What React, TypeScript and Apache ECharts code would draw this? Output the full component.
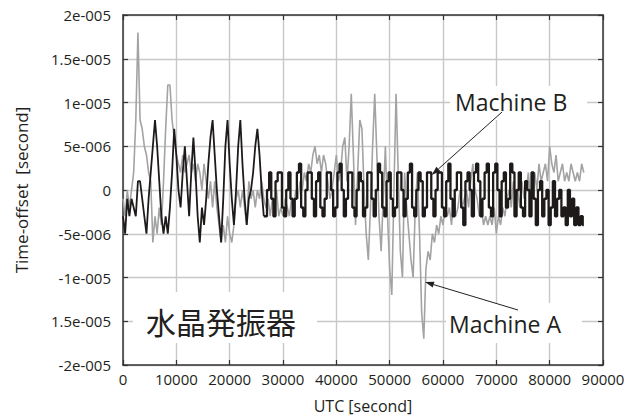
import React, { useEffect, useRef } from "react";
import * as echarts from "echarts";

// sampling interval of the series along UTC [second]
const SAMPLE_STEP_S = 400;

// Time offsets in microseconds (1e-6 s), one value every SAMPLE_STEP_S seconds from 0 to 86400 s
const machineA = [
  -1, -3, 0, -2, 0, 2, 8, 18, 8, 7,
  5, 4, 2, 1, -6, -3, -5, -2, -4, 1,
  7, 12, 12, 8, 6, 4, 3, 2, 4, 2,
  3, 4, 2, 3, 1, 3, 2, 0, 3, 1,
  -1, 1, -2, 1, -2, -4, -6, -4, -6, -3,
  -5, -6, -4, -1, 0, -2, 0, -2, -4, 1,
  -1, 0, -2, 0, -1, 1, -1,
  -2, -1, -3, -1, -2, 0, -3, -2, -3, -1,
  -2, -3, -1, -2, 0, -1, 1, 0, 2, 1,
  3, 2, 4, 5, 3, 4, 2, 4,
  3, 1, -1, 0, 2, 4, 1, 2, 5, 6,
  1, 5, 11, 4, -4, 2, 8, 7, 0, -5,
  -8, -2, 5, 11, 4, -3, -7, -1, 5, -3,
  -9, -12, 0, 11, 2, -7, -10, 2, -2, -5,
  -8, -10, -2, 2, -5, -14, -17, -9, -7, -8,
  -5, -6, -4, -5, -3, -4, -2, -3,
  -2, -4, -1, -3, -2, 0, -2, -1, 0, -2,
  1, 3, 0, -1, -3, -2, -4, -3, -4, -3,
  -4, -2, -5, -3, -4, -2, -3, -1, 0, -2,
  1, -1, 0, -2, 1, -1, 0, 2, -1, 1,
  2, 0, 3, 1, 2, 3, 1, 5, 3, 2,
  4, 1, 2, 3, 1, 2, 1, 3, 2, 1,
  2, 1, 3, 2,
];

const machineB = [
  -3, -5, -1, -3, -1, -2, -3, 1, 1, -1,
  -3, -5, -1, 2, 5, 8, 5, 1, -3, -5,
  -3, -5, -2, 2, 7, 4, 0, -2, 2, 5,
  1, -3, 2, 6, 2, -3, -6, -2, -4, -1,
  3, 6, 8, 4, 0, -3, -6, -1, 5, 8,
  3, -1, -4, 0, 5, 8, 3, -1, -4, -1,
  0, 2, 5, 7, 4, 0, -3,
  -3, 0, 2, -1, -3, 1, 2, 2, -2, -3,
  0, 2, -1, -3, -1, 2, 3, -2, -3, 0,
  2, 2, -1, -3, 1, 2, -2, -3, -1, 2,
  2, 0, -3, -2, 2, 3, 0, -3, -1, 2,
  2, -2, -3, 0, 2, 1, -3, -2, 2, 2,
  -1, -3, 0, 3, 2, -2, -3, 1, 2, -1,
  -3, -2, 2, 2, 0, -3, -1, 2, 3, -2,
  -3, 0, 2, 1, -3, -2, 2, 2, -1, -3,
  0, 2, 2, -2, -3, 1, 3, -1, -3, 0,
  2, 2, -2, -4, 1, 2, 0, -3, 2, 3,
  1, -3, -1, 2, 3, -2, -3, 2, 3, 0,
  -3, 1, 2, -2, -1, 3, 2, -3, 0, 2,
  -2, -3, 1, 0, -3, 2, -1, -4, 0, 1,
  -3, -1, 0, -4, -2, 1, -3, -1, 0, -3,
  -2, -4, 0, -3, -1, -4, -2, -4, -3, -4,
];

// index where Machine B leaves its early large swings and settles into the quantized band
const machineBBandStart = 66;

// y tick labels as printed in the original (note the missing minus at -1.5e-005)
const yTickLabels = [
  "-2e-005", "1.5e-005", "-1e-005", "-5e-006", "0",
  "5e-006", "1e-005", "1.5e-005", "2e-005",
];

const seriesNames = ["Machine A", "Machine B"];
const chartTitleJa = "水晶発振器";

const FONT = "'Open Sans', 'Noto Sans', sans-serif";
const TXT = "#231f20";

function arrowGraphics(start: number[], tip: number[]) {
  const dx = tip[0] - start[0];
  const dy = tip[1] - start[1];
  const L = Math.hypot(dx, dy);
  const ux = dx / L, uy = dy / L;
  const len = 9, half = 3;
  const bx = tip[0] - ux * len, by = tip[1] - uy * len;
  const px = -uy * half, py = ux * half;
  return [
    {
      type: "line",
      shape: { x1: start[0], y1: start[1], x2: bx, y2: by },
      style: { stroke: TXT, lineWidth: 1 },
      z: 20,
    },
    {
      type: "polygon",
      shape: { points: [[tip[0], tip[1]], [bx + px, by + py], [bx - px, by - py]] },
      style: { fill: TXT },
      z: 20,
    },
  ];
}

export default function App() {
  const ref = useRef<HTMLDivElement>(null);
  useEffect(() => {
    document.body.style.margin = "0";
    const chart = echarts.init(ref.current!, null, { renderer: "svg" });
    const dataA = machineA.map((v, i) => [i * SAMPLE_STEP_S, v]);
    const dataB = machineB.map((v, i) => [i * SAMPLE_STEP_S, v]);
    const axisLine = { show: true, onZero: false, lineStyle: { color: "#333", width: 1.5 } };
    const tick = { show: true, inside: true, length: 5, lineStyle: { color: "#333", width: 1.2 } };
    const split = { show: true, lineStyle: { color: "#c8c8c8", width: 1.4 } };
    chart.setOption({
      animation: false,
      backgroundColor: "#fff",
      grid: { left: 123, right: 34, top: 15, bottom: 54, containLabel: false },
      xAxis: [
        {
          type: "value", min: 0, max: 90000, interval: 10000, position: "bottom",
          axisLine, axisTick: tick, splitLine: split,
          axisLabel: { fontSize: 15, color: TXT, fontFamily: FONT, margin: 6, formatter: (v: number) => String(v) },
          name: "UTC [second]", nameLocation: "middle", nameGap: 33,
          nameTextStyle: { fontSize: 16, color: TXT, fontFamily: FONT },
        },
        {
          type: "value", min: 0, max: 90000, interval: 10000, position: "top",
          axisLine, axisTick: tick, splitLine: { show: false }, axisLabel: { show: false },
        },
      ],
      yAxis: [
        {
          type: "value", min: -20, max: 20, interval: 5, position: "left",
          axisLine, axisTick: tick, splitLine: split,
          axisLabel: {
            fontSize: 15, color: TXT, fontFamily: FONT, margin: 12,
            formatter: (v: number) => yTickLabels[Math.round((v + 20) / 5)] ?? "",
          },
          name: "Time-offset  [second]", nameLocation: "middle", nameGap: 93, nameRotate: 90,
          nameTextStyle: { fontSize: 17, color: TXT, fontFamily: FONT },
        },
        {
          type: "value", min: -20, max: 20, interval: 5, position: "right",
          axisLine, axisTick: tick, splitLine: { show: false }, axisLabel: { show: false },
        },
      ],
      series: [
        {
          name: seriesNames[0], type: "line", data: dataA, showSymbol: false,
          lineStyle: { color: "#a3a3a3", width: 1.6 }, z: 2,
        },
        {
          name: seriesNames[1], type: "line", data: dataB.slice(0, machineBBandStart + 1), showSymbol: false,
          lineStyle: { color: "#1f1a1a", width: 1.8 }, z: 3,
        },
        {
          name: seriesNames[1], type: "line", data: dataB.slice(machineBBandStart), showSymbol: false, step: "middle",
          lineStyle: { color: "#1f1a1a", width: 2.3 }, z: 3,
        },
      ],
      graphic: [
        { type: "rect", shape: { x: 450, y: 86, width: 137, height: 34 }, style: { fill: "#fff" }, z: 10 },
        { type: "rect", shape: { x: 446, y: 303, width: 136, height: 40 }, style: { fill: "#fff" }, z: 10 },
        { type: "rect", shape: { x: 133, y: 292, width: 184, height: 51 }, style: { fill: "#fff" }, z: 10 },
        {
          type: "text", x: 455, y: 102, z: 15,
          style: { text: seriesNames[1], fontSize: 23, fontFamily: FONT, fill: TXT, textVerticalAlign: "middle" },
        },
        {
          type: "text", x: 449, y: 324, z: 15,
          style: { text: seriesNames[0], fontSize: 23, fontFamily: FONT, fill: TXT, textVerticalAlign: "middle" },
        },
        {
          type: "text", x: 146, y: 321, z: 15,
          style: { text: chartTitleJa, fontSize: 30, fontFamily: "'Noto Sans CJK JP', sans-serif", fill: TXT, textVerticalAlign: "middle" },
        },
        ...arrowGraphics([502, 112], [431.7, 175]),
        ...arrowGraphics([518, 310], [425, 282]),
      ],
    });
    return () => chart.dispose();
  }, []);
  return <div ref={ref} style={{ width: 637, height: 419 }} />;
}
